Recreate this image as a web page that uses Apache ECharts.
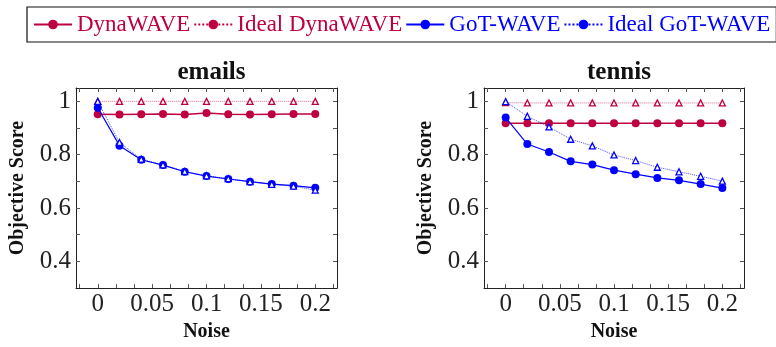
<!DOCTYPE html>
<html>
<head>
<meta charset="utf-8">
<script src="https://cdn.jsdelivr.net/npm/echarts@6/dist/echarts.min.js"></script>
<style>
  html, body { margin: 0; padding: 0; background: #fff; }
  #chart { width: 776px; height: 347px; }
</style>
</head>
<body>
<div id="chart"></div>
<script>
// x values (noise levels)
const noise = [0, 0.02, 0.04, 0.06, 0.08, 0.1, 0.12, 0.14, 0.16, 0.18, 0.2];

// emails panel
const emailsDyna = [0.952, 0.951, 0.952, 0.953, 0.951, 0.956, 0.952, 0.951, 0.952, 0.953, 0.953];
const emailsIdealDyna = [1, 1, 1, 1, 1, 1, 1, 1, 1, 1, 1];
const emailsGot = [0.976, 0.834, 0.781, 0.761, 0.736, 0.720, 0.709, 0.699, 0.690, 0.684, 0.676];
const emailsIdealGot = [1, 0.846, 0.783, 0.762, 0.737, 0.721, 0.710, 0.699, 0.689, 0.682, 0.667];

// tennis panel
const tennisDyna = [0.918, 0.918, 0.918, 0.918, 0.918, 0.918, 0.918, 0.918, 0.918, 0.918, 0.918];
const tennisIdealDyna = [0.995, 0.994, 0.994, 0.994, 0.994, 0.994, 0.994, 0.994, 0.994, 0.994, 0.994];
const tennisGot = [0.939, 0.840, 0.810, 0.775, 0.763, 0.742, 0.727, 0.713, 0.704, 0.690, 0.675];
const tennisIdealGot = [0.999, 0.944, 0.904, 0.858, 0.833, 0.799, 0.778, 0.753, 0.736, 0.719, 0.701];

// tick labels
const xTickLabels = [0, 0.05, 0.1, 0.15, 0.2];
const yTickLabels = [0.4, 0.6, 0.8, 1];

const panelTitles = ['emails', 'tennis'];
const seriesNames = ['DynaWAVE', 'Ideal DynaWAVE', 'GoT-WAVE', 'Ideal GoT-WAVE'];

const CRIMSON = '#bf0040';
const BLUE = '#0000ff';
const SERIF = '"Liberation Serif", "Times New Roman", serif';

const xMinor = [];
for (let k = -1; k <= 13; k++) xMinor.push(k / 60);
const yMinor = [0.4, 0.5, 0.6, 0.7, 0.8, 0.9, 1.0];

const grids = [
  { left: 76, width: 261, top: 88, height: 215 },
  { left: 484, width: 260, top: 88, height: 215 }
];

const xAxes = [];
const yAxes = [];
grids.forEach((g, i) => {
  const tick = { show: true, inside: true, length: 4, lineStyle: { color: '#555', width: 1 } };
  xAxes.push({
    type: 'value', gridIndex: i, min: -0.02, max: 0.22, position: 'bottom',
    name: 'Noise', nameLocation: 'middle', nameGap: 26,
    nameTextStyle: { fontFamily: SERIF, fontWeight: 'bold', fontSize: 20, color: '#111' },
    axisLine: { show: true, onZero: false, lineStyle: { color: '#222', width: 1 } },
    axisTick: Object.assign({}, tick, { customValues: xMinor }),
    axisLabel: { customValues: xTickLabels, fontFamily: SERIF, fontSize: 25, color: '#222', margin: 4 },
    splitLine: { show: false }
  });
  xAxes.push({
    type: 'value', gridIndex: i, min: -0.02, max: 0.22, position: 'top',
    axisLine: { show: true, onZero: false, lineStyle: { color: '#222', width: 1 } },
    axisTick: Object.assign({}, tick, { customValues: xMinor }),
    axisLabel: { show: false },
    splitLine: { show: false }
  });
  yAxes.push({
    type: 'value', gridIndex: i, min: 0.3, max: 1.05, position: 'left',
    name: 'Objective Score', nameLocation: 'middle', nameGap: 48, nameRotate: 90,
    nameTextStyle: { fontFamily: SERIF, fontWeight: 'bold', fontSize: 20, color: '#111' },
    axisLine: { show: true, onZero: false, lineStyle: { color: '#222', width: 1 } },
    axisTick: Object.assign({}, tick, { customValues: yMinor }),
    axisLabel: { customValues: yTickLabels, fontFamily: SERIF, fontSize: 25, color: '#222', margin: 5 },
    splitLine: { show: false }
  });
  yAxes.push({
    type: 'value', gridIndex: i, min: 0.3, max: 1.05, position: 'right',
    axisLine: { show: true, onZero: false, lineStyle: { color: '#222', width: 1 } },
    axisTick: Object.assign({}, tick, { customValues: yMinor }),
    axisLabel: { show: false },
    splitLine: { show: false }
  });
});

function pairs(vals) {
  return noise.map((x, i) => [x, vals[i]]);
}

const series = [];
// legend-only entries (circle markers in the legend)
[[CRIMSON, 'solid'], [CRIMSON, 'dotted'], [BLUE, 'solid'], [BLUE, 'dotted']].forEach((s, k) => {
  series.push({
    name: seriesNames[k], type: 'line', xAxisIndex: 0, yAxisIndex: 0, data: [],
    symbol: 'circle', symbolSize: 8,
    itemStyle: { color: s[0] },
    lineStyle: { color: s[0], type: s[1], width: s[1] === 'solid' ? 1.5 : 1.2 }
  });
});

const panels = [
  [emailsDyna, emailsIdealDyna, emailsGot, emailsIdealGot],
  [tennisDyna, tennisIdealDyna, tennisGot, tennisIdealGot]
];
panels.forEach((p, i) => {
  const ax = i * 2;
  const ay = i * 2;
  series.push({
    name: seriesNames[0], type: 'line', xAxisIndex: ax, yAxisIndex: ay, data: pairs(p[0]),
    symbol: 'circle', symbolSize: 8, itemStyle: { color: CRIMSON },
    lineStyle: { color: CRIMSON, width: 1.5 }, z: 2
  });
  series.push({
    name: seriesNames[1], type: 'line', xAxisIndex: ax, yAxisIndex: ay, data: pairs(p[1]),
    symbol: 'triangle', symbolSize: 6,
    itemStyle: { color: '#fff', borderColor: CRIMSON, borderWidth: 1.3 },
    lineStyle: { color: CRIMSON, width: 1, type: 'dotted', opacity: 0.6 }, z: 3
  });
  series.push({
    name: seriesNames[2], type: 'line', xAxisIndex: ax, yAxisIndex: ay, data: pairs(p[2]),
    symbol: 'circle', symbolSize: 8, itemStyle: { color: BLUE },
    lineStyle: { color: BLUE, width: 1.2 }, z: 4
  });
  series.push({
    name: seriesNames[3], type: 'line', xAxisIndex: ax, yAxisIndex: ay, data: pairs(p[3]),
    symbol: 'triangle', symbolSize: 6,
    itemStyle: { color: '#fff', borderColor: BLUE, borderWidth: 1.3 },
    lineStyle: { color: BLUE, width: 1, type: 'dotted', opacity: 0.7 }, z: 5
  });
});

const chart = echarts.init(document.getElementById('chart'), null, { renderer: 'canvas' });
chart.setOption({
  animation: false,
  backgroundColor: '#fff',
  title: panelTitles.map((t, i) => ({
    text: t,
    left: grids[i].left + grids[i].width / 2,
    top: 55,
    textAlign: 'center',
    textStyle: { fontFamily: SERIF, fontWeight: 'bold', fontSize: 25, color: '#111' }
  })),
  legend: {
    left: 27, top: 7, width: 900,
    orient: 'horizontal',
    padding: [6, 6, 6, 6],
    borderColor: '#111', borderWidth: 1.2,
    itemWidth: 38, itemHeight: 12, itemGap: 3,
    selectedMode: false,
    textStyle: { fontFamily: SERIF, fontSize: 23 },
    data: [
      { name: seriesNames[0], textStyle: { color: CRIMSON } },
      { name: seriesNames[1], textStyle: { color: CRIMSON } },
      { name: seriesNames[2], textStyle: { color: BLUE } },
      { name: seriesNames[3], textStyle: { color: BLUE } }
    ]
  },
  grid: grids,
  xAxis: xAxes,
  yAxis: yAxes,
  series: series
});
</script>
</body>
</html>
